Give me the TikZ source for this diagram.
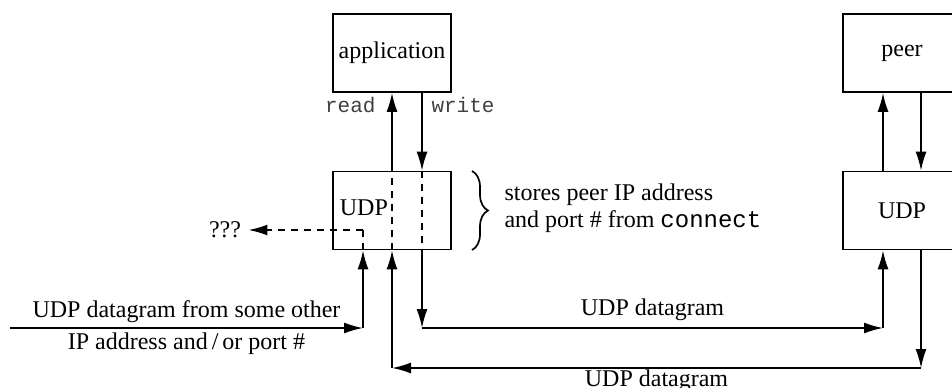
\documentclass[tikz,border=0pt]{standalone}
\usepackage{fontspec}
\setmainfont{Liberation Serif}
\setmonofont{Liberation Mono}
\usetikzlibrary{arrows.meta,calc,decorations.pathreplacing}
\begin{document}
\begin{tikzpicture}[x=0.5pt, y=-0.5pt, line width=0.85pt,
    font=\fontsize{12}{13.5}\selectfont,
    box/.style={draw, minimum width=59pt, minimum height=39pt, inner sep=0pt},
    arr/.style={-{Latex[length=9.5pt,width=5.5pt]}},
    dsh/.style={dash pattern=on 3.5pt off 3pt},
    code/.style={font=\fontsize{10.5}{12}\ttfamily, text=black!75}]
    \useasboundingbox (0,0) rectangle (952,387);
    \clip (0,0) rectangle (952,387);

    % Hosts
    \node[box] (app) at (392, 53) {application};
    \node[box] (udpL) at (392, 210.5) {};
    \node[anchor=west, inner sep=0pt] (udpLtxt) at (339, 208) {UDP};
    \node[box] (peer) at (902, 53) {peer};
    \node[box] (udpR) at (902, 210.5) {UDP};

    % Corners
    \coordinate (wcorner) at (422, 328);
    \coordinate (pcorner) at (883, 328);
    \coordinate (rcorner) at (392, 368);
    \coordinate (qcorner) at (921, 368);
    \coordinate (ostart) at (10, 328);
    \coordinate (ocorner) at (363, 328);
    \coordinate (odash) at (363, 230);
    \node (qq) at (225, 230) {???};

    % write: application -> peer
    \draw[arr] (app.south -| wcorner) -- (udpL.north -| wcorner);
    \draw[dsh] (udpL.north -| wcorner) -- (udpL.south -| wcorner);
    \draw[arr] (udpL.south -| wcorner) -- (wcorner);
    \draw[arr] (wcorner) -- (pcorner);
    \draw[arr] (pcorner) -- (udpR.south -| pcorner);

    % peer -> application (read)
    \draw[arr] (udpR.south -| qcorner) -- (qcorner);
    \draw[arr] (qcorner) -- (rcorner);
    \draw[arr] (rcorner) -- (udpL.south -| rcorner);
    \draw[dsh] (udpL.south -| rcorner) -- (udpL.north -| rcorner);
    \draw[arr] (udpL.north -| rcorner) -- (app.south);

    % peer side
    \draw[arr] (udpR.north -| pcorner) -- (peer.south -| pcorner);
    \draw[arr] (peer.south -| qcorner) -- (udpR.north -| qcorner);

    % datagram from somewhere else
    \draw[arr] (ostart) -- (ocorner);
    \draw[arr] (ocorner) -- (udpL.south -| ocorner);
    \draw[dsh] (udpL.south -| ocorner) -- (odash);
    \draw[dsh, arr] (odash) -- (qq.east);

    % Labels
    \node[code, anchor=east] (rd) at (383, 105) {read};
    \node[code, anchor=west] (wr) at (424, 105) {write};
    \node[above, inner sep=2pt] (oth1) at ($(ostart)!0.5!(ocorner)$) {UDP datagram from some other};
    \node[below, inner sep=2pt] (oth2) at ($(ostart)!0.5!(ocorner)$) {IP address and\,/\,or port \#};
    \node[above, inner sep=3pt] (dg1) at ($(wcorner)!0.5!(pcorner)$) {UDP datagram};
    \node[below, inner sep=0.5pt] (dg2) at ($(rcorner)!0.5!(qcorner)$) {UDP datagram};

    % connect note
    \draw[decorate, decoration={brace, amplitude=8pt}] (472, 171) -- (472, 250);
    \node[anchor=west, align=left] (note) at (497, 208.5) {stores peer IP address\\and port \# from \texttt{connect}};
\end{tikzpicture}
\end{document}
